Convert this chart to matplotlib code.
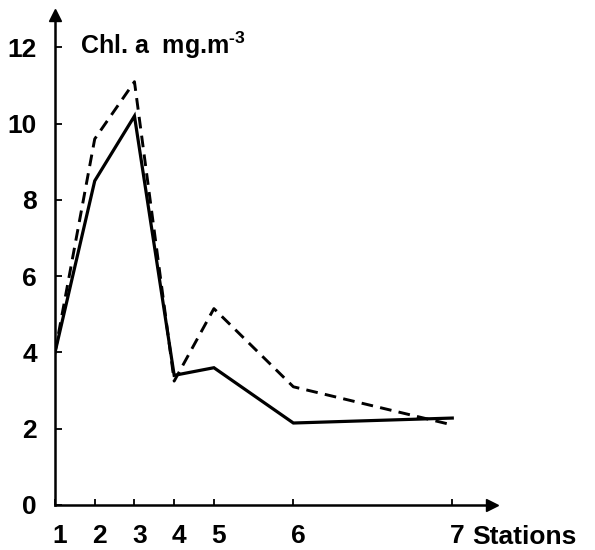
import matplotlib
matplotlib.use("Agg")
from matplotlib import pyplot as plt
from matplotlib.transforms import ScaledTranslation

plt.rcParams["font.family"] = "Liberation Sans"
plt.rcParams["font.weight"] = "bold"
plt.rcParams["mathtext.fontset"] = "custom"
plt.rcParams["mathtext.rm"] = "Liberation Sans:bold"
plt.rcParams["mathtext.default"] = "rm"

# station positions along the transect (axis units) and their labels
station_pos = [0, 1, 2, 3, 4, 6, 10]
station_labels = ["1", "2", "3", "4", "5", "6", "7"]

# chlorophyll a (mg m-3)
chl_solid = [4.0, 8.5, 10.2, 3.4, 3.6, 2.15, 2.28]
chl_dashed = [4.0, 9.6, 11.1, 3.25, 5.15, 3.1, 2.1]

fig = plt.figure(figsize=(5.95, 5.5), dpi=100)
ax = fig.add_axes([55 / 595, 45 / 550, 437 / 595, 490 / 550])

ax.plot(station_pos, chl_solid, color="black", lw=2.3, solid_joinstyle="miter")
ax.plot(station_pos, chl_dashed, color="black", lw=2.1, linestyle=(0, (4, 2.5)))

ax.set_xlim(0, 11.0)
ax.set_ylim(0, 12.85)

for side in ("top", "right"):
    ax.spines[side].set_visible(False)
for side in ("left", "bottom"):
    ax.spines[side].set_linewidth(1.8)

# arrow heads
ax.plot(1, 0, ">k", ms=9, transform=ax.transAxes, clip_on=False)
ax.plot(0, 1, "^k", ms=9, transform=ax.transAxes, clip_on=False)

ax.set_yticks([0, 2, 4, 6, 8, 10, 12])
ax.set_xticks(station_pos)
ax.set_xticklabels(station_labels)
ax.tick_params(axis="y", direction="in", length=5, width=1.3, pad=13, labelsize=19)
ax.tick_params(axis="x", direction="in", length=4, width=1.3, pad=14, labelsize=19)

shift = ScaledTranslation(5 / 100, 0, fig.dpi_scale_trans)
for lab in ax.get_xticklabels():
    lab.set_transform(lab.get_transform() + shift)

ax.text(10.5, -0.85, "Stations", fontsize=19, ha="left", va="center")
ax.text(0.62, 12.05, r"Chl. a  mg.m$^{\text{-3}}$", fontsize=18, ha="left", va="center")

fig.savefig("out.png", dpi=100)
